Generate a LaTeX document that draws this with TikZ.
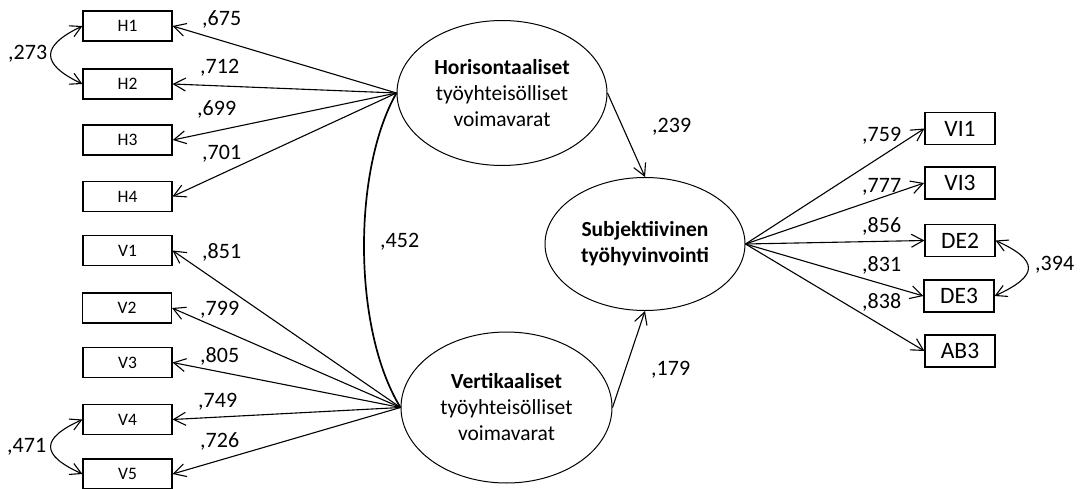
\documentclass[tikz,border=0pt]{standalone}
\usepackage{fontspec}
\setmainfont{Carlito}
\usetikzlibrary{shapes.geometric,arrows.meta,calc}
\begin{document}
\begin{tikzpicture}[x=1pt,y=-1pt,
  lbox/.style={draw,line width=1.1pt,minimum width=89pt,minimum height=30pt,inner sep=0pt,font=\fontsize{17.5}{19}\selectfont},
  rbox/.style={draw,line width=1.1pt,minimum width=70pt,minimum height=32pt,inner sep=0pt,font=\fontsize{23.5}{26}\selectfont},
  lat/.style={draw,ellipse,line width=1pt,inner sep=0pt,align=center,font=\fontsize{21.5}{26}\selectfont},
  coef/.style={inner sep=0pt,anchor=base west,font=\fontsize{22}{24}\selectfont},
  load/.style={line width=1.1pt,-{Straight Barb[length=12pt,width=13pt]}},
  cov/.style={line width=1.1pt,{Straight Barb[length=11pt,width=12pt]}-{Straight Barb[length=11pt,width=12pt]}}
]
\useasboundingbox (0,0) rectangle (1081,489);

% latent variables
\node[lat,minimum width=210pt,minimum height=145pt] (H) at (502,93)
  {\textbf{Horisontaaliset}\\työyhteisölliset\\voimavarat};
\node[lat,minimum width=211pt,minimum height=151pt] (V) at (506.5,407.5)
  {\textbf{Vertikaaliset}\\työyhteisölliset\\voimavarat};
\node[lat,minimum width=200pt,minimum height=133pt] (S) at (645,244)
  {\textbf{Subjektiivinen}\\\textbf{työhyvinvointi}};

% left indicators
\node[lbox] (H1) at (127.5,26) {H1};
\node[lbox] (H2) at (127.5,84) {H2};
\node[lbox,line width=1.6pt] (H3) at (127.5,140) {H3};
\node[lbox] (H4) at (127.5,196.5) {H4};
\node[lbox] (V1) at (127.5,250.5) {V1};
\node[lbox] (V2) at (127,308) {V2};
\node[lbox] (V3) at (127.5,362.5) {V3};
\node[lbox] (V4) at (127.5,419.5) {V4};
\node[lbox] (V5) at (127.5,474) {V5};

% right indicators
\node[rbox] (VI1) at (960,128.5) {VI1};
\node[rbox,line width=1.8pt] (VI3) at (960,183) {VI3};
\node[rbox] (DE2) at (960,240.5) {DE2};
\node[rbox] (DE3) at (959,296) {DE3};
\node[rbox] (AB3) at (960,351) {AB3};

% loadings
\foreach \b in {H1,H2,H3,H4} \draw[load] (H.west) -- (\b.east);
\foreach \b in {V1,V2,V3,V4,V5} \draw[load] (V.west) -- (\b.east);
\foreach \b in {VI1,VI3,DE2,DE3,AB3} \draw[load] (S.east) -- (\b.west);

% structural paths
\draw[load] (H.east) -- (S.north);
\draw[load] (V.east) -- (S.south);

% covariances
\draw[line width=1.7pt] (H.west) .. controls ($(H.west)+(-44,77)$) and ($(V.west)+(-48,-78)$) .. (V.west);
\draw[cov] (H1.west) .. controls ($(H1.west)+(-42,20)$) and ($(H2.west)+(-42,-20)$) .. (H2.west);
\draw[cov] (V4.west) .. controls ($(V4.west)+(-42,19)$) and ($(V5.west)+(-42,-19)$) .. (V5.west);
\draw[cov] (DE2.east) .. controls ($(DE2.east)+(44,20)$) and ($(DE3.east)+(44,-20)$) .. (DE3.east);

% coefficients
\node[coef] (c675) at (202,26) {,675};
\node[coef] (c712) at (200,74) {,712};
\node[coef] (c699) at (197,116) {,699};
\node[coef] (c701) at (202,160) {,701};
\node[coef] (c273) at (8,60) {,273};
\node[coef] (c452) at (380,247) {,452};
\node[coef] (c851) at (202,258) {,851};
\node[coef] (c799) at (200,315) {,799};
\node[coef] (c805) at (200,362) {,805};
\node[coef] (c749) at (198,407) {,749};
\node[coef] (c726) at (200,447) {,726};
\node[coef] (c471) at (7,452) {,471};
\node[coef] (c239) at (652,133) {,239};
\node[coef] (c179) at (651,375) {,179};
\node[coef] (c759) at (862,141.5) {,759};
\node[coef] (c777) at (862,192.5) {,777};
\node[coef] (c856) at (862,233) {,856};
\node[coef] (c831) at (862,271) {,831};
\node[coef] (c838) at (862,308) {,838};
\node[coef] (c394) at (1035,270) {,394};
\end{tikzpicture}
\end{document}
